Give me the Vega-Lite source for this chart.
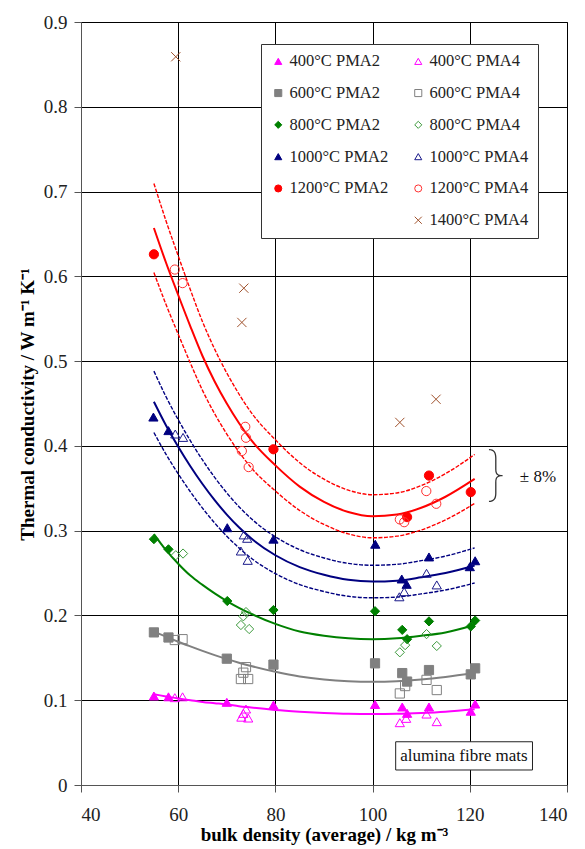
{
  "$schema": "https://vega.github.io/schema/vega-lite/v6.json",
  "width": 486,
  "height": 763,
  "autosize": {"type": "none"},
  "padding": {"left": 81, "top": 22, "right": 18, "bottom": 64},
  "background": "white",
  "datasets": {
    "pts": [
      {"x":55,"y":0.105,"s":"400°C PMA2"},{"x":58,"y":0.104,"s":"400°C PMA2"},{"x":70,"y":0.0975,"s":"400°C PMA2"},{"x":79.6,"y":0.0943,"s":"400°C PMA2"},{"x":100.5,"y":0.095,"s":"400°C PMA2"},{"x":106.1,"y":0.092,"s":"400°C PMA2"},{"x":107.1,"y":0.0845,"s":"400°C PMA2"},{"x":111.6,"y":0.092,"s":"400°C PMA2"},{"x":120.2,"y":0.087,"s":"400°C PMA2"},{"x":121.1,"y":0.0955,"s":"400°C PMA2"},
      {"x":59.3,"y":0.103,"s":"400°C PMA4"},{"x":60.9,"y":0.104,"s":"400°C PMA4"},{"x":73.95,"y":0.0896,"s":"400°C PMA4"},{"x":73.4,"y":0.0845,"s":"400°C PMA4"},{"x":73,"y":0.08,"s":"400°C PMA4"},{"x":74.4,"y":0.079,"s":"400°C PMA4"},{"x":105.6,"y":0.0735,"s":"400°C PMA4"},{"x":106.9,"y":0.0786,"s":"400°C PMA4"},{"x":111.1,"y":0.0837,"s":"400°C PMA4"},{"x":113.2,"y":0.0747,"s":"400°C PMA4"},
      {"x":55,"y":0.18,"s":"600°C PMA2"},{"x":58,"y":0.174,"s":"600°C PMA2"},{"x":70,"y":0.149,"s":"600°C PMA2"},{"x":79.6,"y":0.142,"s":"600°C PMA2"},{"x":100.5,"y":0.1435,"s":"600°C PMA2"},{"x":106.1,"y":0.132,"s":"600°C PMA2"},{"x":107.1,"y":0.122,"s":"600°C PMA2"},{"x":111.6,"y":0.1356,"s":"600°C PMA2"},{"x":120.2,"y":0.1305,"s":"600°C PMA2"},{"x":121.1,"y":0.1376,"s":"600°C PMA2"},
      {"x":59.3,"y":0.171,"s":"600°C PMA4"},{"x":60.9,"y":0.172,"s":"600°C PMA4"},{"x":73.95,"y":0.139,"s":"600°C PMA4"},{"x":73.4,"y":0.1325,"s":"600°C PMA4"},{"x":72.9,"y":0.125,"s":"600°C PMA4"},{"x":74.4,"y":0.125,"s":"600°C PMA4"},{"x":105.6,"y":0.108,"s":"600°C PMA4"},{"x":106.7,"y":0.1167,"s":"600°C PMA4"},{"x":111.1,"y":0.124,"s":"600°C PMA4"},{"x":113.2,"y":0.112,"s":"600°C PMA4"},
      {"x":55,"y":0.29,"s":"800°C PMA2"},{"x":58,"y":0.278,"s":"800°C PMA2"},{"x":70.1,"y":0.217,"s":"800°C PMA2"},{"x":79.6,"y":0.2064,"s":"800°C PMA2"},{"x":100.5,"y":0.205,"s":"800°C PMA2"},{"x":106.1,"y":0.183,"s":"800°C PMA2"},{"x":107.1,"y":0.172,"s":"800°C PMA2"},{"x":111.6,"y":0.193,"s":"800°C PMA2"},{"x":120.2,"y":0.187,"s":"800°C PMA2"},{"x":121.1,"y":0.194,"s":"800°C PMA2"},
      {"x":59.5,"y":0.271,"s":"800°C PMA4"},{"x":61,"y":0.273,"s":"800°C PMA4"},{"x":73.95,"y":0.204,"s":"800°C PMA4"},{"x":73.4,"y":0.199,"s":"800°C PMA4"},{"x":72.9,"y":0.1887,"s":"800°C PMA4"},{"x":74.6,"y":0.184,"s":"800°C PMA4"},{"x":105.6,"y":0.1565,"s":"800°C PMA4"},{"x":106.7,"y":0.165,"s":"800°C PMA4"},{"x":111.1,"y":0.178,"s":"800°C PMA4"},{"x":113.2,"y":0.164,"s":"800°C PMA4"},
      {"x":54.9,"y":0.434,"s":"1000°C PMA2"},{"x":58,"y":0.418,"s":"1000°C PMA2"},{"x":70.1,"y":0.3035,"s":"1000°C PMA2"},{"x":79.6,"y":0.29,"s":"1000°C PMA2"},{"x":100.55,"y":0.284,"s":"1000°C PMA2"},{"x":106,"y":0.243,"s":"1000°C PMA2"},{"x":107,"y":0.2367,"s":"1000°C PMA2"},{"x":111.6,"y":0.269,"s":"1000°C PMA2"},{"x":120,"y":0.2575,"s":"1000°C PMA2"},{"x":121.1,"y":0.2645,"s":"1000°C PMA2"},
      {"x":59.4,"y":0.414,"s":"1000°C PMA4"},{"x":61,"y":0.41,"s":"1000°C PMA4"},{"x":73.5,"y":0.295,"s":"1000°C PMA4"},{"x":74.2,"y":0.291,"s":"1000°C PMA4"},{"x":72.9,"y":0.276,"s":"1000°C PMA4"},{"x":74.3,"y":0.265,"s":"1000°C PMA4"},{"x":105.5,"y":0.222,"s":"1000°C PMA4"},{"x":106.5,"y":0.228,"s":"1000°C PMA4"},{"x":111.1,"y":0.2497,"s":"1000°C PMA4"},{"x":113.2,"y":0.236,"s":"1000°C PMA4"},
      {"x":55,"y":0.626,"s":"1200°C PMA2"},{"x":79.6,"y":0.396,"s":"1200°C PMA2"},{"x":107.1,"y":0.316,"s":"1200°C PMA2"},{"x":111.6,"y":0.365,"s":"1200°C PMA2"},{"x":120.2,"y":0.3455,"s":"1200°C PMA2"},
      {"x":59.3,"y":0.608,"s":"1200°C PMA4"},{"x":60.9,"y":0.592,"s":"1200°C PMA4"},{"x":73.8,"y":0.4225,"s":"1200°C PMA4"},{"x":73.95,"y":0.4096,"s":"1200°C PMA4"},{"x":73.1,"y":0.394,"s":"1200°C PMA4"},{"x":74.5,"y":0.375,"s":"1200°C PMA4"},{"x":111.05,"y":0.3467,"s":"1200°C PMA4"},{"x":113.1,"y":0.3317,"s":"1200°C PMA4"},{"x":105.6,"y":0.3133,"s":"1200°C PMA4"},{"x":106.5,"y":0.31,"s":"1200°C PMA4"},
      {"x":59.5,"y":0.859,"s":"1400°C PMA4"},{"x":73.5,"y":0.586,"s":"1400°C PMA4"},{"x":73.1,"y":0.5456,"s":"1400°C PMA4"},{"x":113.05,"y":0.455,"s":"1400°C PMA4"},{"x":105.6,"y":0.4277,"s":"1400°C PMA4"}
    ],
    "fit": [
      {"x":55,"400":0.107,"600":0.181,"800":0.296,"1000":0.452,"1000u":0.4882,"1000l":0.4158,"1200":0.657,"1200u":0.7096,"1200l":0.6044},
      {"x":57.5,"400":0.1045,"600":0.175,"800":0.277,"1000":0.424,"1000u":0.4579,"1000l":0.3901,"1200":0.616,"1200u":0.6653,"1200l":0.5667},
      {"x":60,"400":0.102,"600":0.169,"800":0.261,"1000":0.399,"1000u":0.4309,"1000l":0.3671,"1200":0.578,"1200u":0.6242,"1200l":0.5318},
      {"x":62.5,"400":0.1,"600":0.1635,"800":0.247,"1000":0.376,"1000u":0.4061,"1000l":0.3459,"1200":0.541,"1200u":0.5843,"1200l":0.4977},
      {"x":65,"400":0.098,"600":0.1582,"800":0.236,"1000":0.355,"1000u":0.3834,"1000l":0.3266,"1200":0.506,"1200u":0.5465,"1200l":0.4655},
      {"x":67.5,"400":0.0965,"600":0.1532,"800":0.226,"1000":0.336,"1000u":0.3629,"1000l":0.3091,"1200":0.476,"1200u":0.5141,"1200l":0.4379},
      {"x":70,"400":0.095,"600":0.1485,"800":0.217,"1000":0.319,"1000u":0.3445,"1000l":0.2935,"1200":0.45,"1200u":0.486,"1200l":0.414},
      {"x":72.5,"400":0.093,"600":0.1443,"800":0.209,"1000":0.304,"1000u":0.3283,"1000l":0.2797,"1200":0.427,"1200u":0.4612,"1200l":0.3928},
      {"x":75,"400":0.0915,"600":0.1404,"800":0.202,"1000":0.291,"1000u":0.3143,"1000l":0.2677,"1200":0.407,"1200u":0.4396,"1200l":0.3744},
      {"x":80,"400":0.0885,"600":0.1335,"800":0.19,"1000":0.271,"1000u":0.2927,"1000l":0.2493,"1200":0.377,"1200u":0.4072,"1200l":0.3468},
      {"x":85,"400":0.0865,"600":0.128,"800":0.181,"1000":0.257,"1000u":0.2776,"1000l":0.2364,"1200":0.352,"1200u":0.3802,"1200l":0.3238},
      {"x":90,"400":0.085,"600":0.1245,"800":0.176,"1000":0.248,"1000u":0.2678,"1000l":0.2282,"1200":0.334,"1200u":0.3607,"1200l":0.3073},
      {"x":95,"400":0.084,"600":0.1225,"800":0.173,"1000":0.242,"1000u":0.2614,"1000l":0.2226,"1200":0.322,"1200u":0.3478,"1200l":0.2962},
      {"x":100,"400":0.0837,"600":0.1218,"800":0.172,"1000":0.24,"1000u":0.2592,"1000l":0.2208,"1200":0.317,"1200u":0.3424,"1200l":0.2916},
      {"x":105,"400":0.084,"600":0.1225,"800":0.173,"1000":0.241,"1000u":0.2603,"1000l":0.2217,"1200":0.319,"1200u":0.3445,"1200l":0.2935},
      {"x":110,"400":0.085,"600":0.1245,"800":0.176,"1000":0.245,"1000u":0.2646,"1000l":0.2254,"1200":0.327,"1200u":0.3532,"1200l":0.3008},
      {"x":115,"400":0.0865,"600":0.1275,"800":0.18,"1000":0.25,"1000u":0.27,"1000l":0.23,"1200":0.34,"1200u":0.3672,"1200l":0.3128},
      {"x":121,"400":0.0893,"600":0.132,"800":0.1887,"1000":0.259,"1000u":0.2797,"1000l":0.2383,"1200":0.361,"1200u":0.3899,"1200l":0.3321}
    ]
  },
  "config": {
    "font": "Liberation Serif",
    "view": {"stroke": "#555"},
    "axis": {
      "labelFont": "Liberation Serif", "titleFont": "Liberation Serif",
      "labelFontSize": 19, "titleFontSize": 19, "titleFontWeight": "bold",
      "labelColor": "#222", "titleColor": "#000",
      "gridColor": "#000", "gridWidth": 1, "gridOpacity": 1,
      "domainColor": "#555", "tickColor": "#555", "tickSize": 7, "domainWidth": 1, "tickWidth": 1
    },
    "axisX": {"labelPadding": 28, "labelBaseline": "alphabetic", "titleY": 55, "titleBaseline": "alphabetic"},
    "axisY": {"labelPadding": 7, "titleX": -54, "titleY": 382, "titleBaseline": "middle", "titleAlign": "center"}
  },
  "layer": [
    {
      "data": {"name": "fit"},
      "transform": [{"fold": ["400", "600", "800", "1000", "1200"], "as": ["k", "v"]}],
      "mark": {"type": "line", "strokeWidth": 2, "interpolate": "monotone"},
      "encoding": {
        "x": {"field": "x", "type": "quantitative", "scale": {"domain": [40, 140], "nice": false}, "axis": {"values": [40, 60, 80, 100, 120, 140]}, "title": "bulk density (average) / kg m⁻³"},
        "y": {"field": "v", "type": "quantitative", "scale": {"domain": [0, 0.9], "nice": false}, "axis": {"values": [0, 0.1, 0.2, 0.3, 0.4, 0.5, 0.6, 0.7, 0.8, 0.9], "format": ".1~f"}, "title": "Thermal conductivity / W m⁻¹ K⁻¹"},
        "color": {"field": "k", "type": "nominal", "legend": null, "scale": {"domain": ["400", "600", "800", "1000", "1200", "1000u", "1000l", "1200u", "1200l"], "range": ["#FF00FF", "#808080", "#008000", "#000080", "#FF0000", "#000080", "#000080", "#FF0000", "#FF0000"]}}
      }
    },
    {
      "data": {"name": "fit"},
      "transform": [{"fold": ["1000u", "1000l", "1200u", "1200l"], "as": ["k", "v"]}],
      "mark": {"type": "line", "strokeWidth": 1.4, "strokeDash": [4, 1.5], "interpolate": "monotone"},
      "encoding": {
        "x": {"field": "x", "type": "quantitative", "scale": {"domain": [40, 140], "nice": false}, "title": "bulk density (average) / kg m⁻³"},
        "y": {"field": "v", "type": "quantitative", "scale": {"domain": [0, 0.9], "nice": false}, "title": "Thermal conductivity / W m⁻¹ K⁻¹"},
        "color": {"field": "k", "type": "nominal", "legend": null, "scale": {"domain": ["400", "600", "800", "1000", "1200", "1000u", "1000l", "1200u", "1200l"], "range": ["#FF00FF", "#808080", "#008000", "#000080", "#FF0000", "#000080", "#000080", "#FF0000", "#FF0000"]}}
      }
    },
    {
      "data": {"name": "pts"},
      "mark": {"type": "point", "opacity": 1, "strokeWidth": 1},
      "encoding": {
        "x": {"field": "x", "type": "quantitative", "scale": {"domain": [40, 140], "nice": false}, "title": "bulk density (average) / kg m⁻³"},
        "y": {"field": "y", "type": "quantitative", "scale": {"domain": [0, 0.9], "nice": false}, "title": "Thermal conductivity / W m⁻¹ K⁻¹"},
        "shape": {"field": "s", "type": "nominal",
          "scale": {"domain": ["400°C PMA2", "400°C PMA4", "600°C PMA2", "600°C PMA4", "800°C PMA2", "800°C PMA4", "1000°C PMA2", "1000°C PMA4", "1200°C PMA2", "1200°C PMA4", " ", "1400°C PMA4"],
                    "range": ["triangle-up", "triangle-up", "square", "square", "diamond", "diamond", "triangle-up", "triangle-up", "circle", "circle", "circle", "M-1,-1L1,1M1,-1L-1,1"]},
          "legend": {"orient": "none", "legendX": 180, "legendY": 22, "title": null, "direction": "horizontal", "columns": 2, "columnPadding": 21, "rowPadding": 14.8, "padding": 9, "fillColor": "white", "strokeColor": "#333", "labelFont": "Liberation Serif", "labelFontSize": 16.5, "labelColor": "#222", "symbolSize": 50, "symbolStrokeWidth": 1, "labelOffset": 3}},
        "fill": {"field": "s", "type": "nominal",
          "scale": {"domain": ["400°C PMA2", "400°C PMA4", "600°C PMA2", "600°C PMA4", "800°C PMA2", "800°C PMA4", "1000°C PMA2", "1000°C PMA4", "1200°C PMA2", "1200°C PMA4", " ", "1400°C PMA4"],
                    "range": ["#FF00FF", "transparent", "#808080", "transparent", "#008000", "transparent", "#000080", "transparent", "#FF0000", "transparent", "transparent", "transparent"]},
          "legend": {"orient": "none", "legendX": 180, "legendY": 22, "title": null, "direction": "horizontal", "columns": 2, "columnPadding": 21, "rowPadding": 14.8, "padding": 9, "fillColor": "white", "strokeColor": "#333", "labelFont": "Liberation Serif", "labelFontSize": 16.5, "labelColor": "#222", "symbolSize": 50, "symbolStrokeWidth": 1, "labelOffset": 3}},
        "stroke": {"field": "s", "type": "nominal",
          "scale": {"domain": ["400°C PMA2", "400°C PMA4", "600°C PMA2", "600°C PMA4", "800°C PMA2", "800°C PMA4", "1000°C PMA2", "1000°C PMA4", "1200°C PMA2", "1200°C PMA4", " ", "1400°C PMA4"],
                    "range": ["#FF00FF", "#FF00FF", "#808080", "#808080", "#008000", "#3C9A3C", "#000080", "#1A1A8A", "#FF0000", "#FF3030", "transparent", "#A0522D"]},
          "legend": {"orient": "none", "legendX": 180, "legendY": 22, "title": null, "direction": "horizontal", "columns": 2, "columnPadding": 21, "rowPadding": 14.8, "padding": 9, "fillColor": "white", "strokeColor": "#333", "labelFont": "Liberation Serif", "labelFontSize": 16.5, "labelColor": "#222", "symbolSize": 50, "symbolStrokeWidth": 1, "labelOffset": 3}},
        "size": {"field": "s", "type": "nominal", "legend": null,
          "scale": {"domain": ["400°C PMA2", "400°C PMA4", "600°C PMA2", "600°C PMA4", "800°C PMA2", "800°C PMA4", "1000°C PMA2", "1000°C PMA4", "1200°C PMA2", "1200°C PMA4", "1400°C PMA4"],
                    "range": [85, 85, 55, 55, 65, 65, 85, 85, 80, 80, 70]}}
      }
    },
    {
      "data": {"values": [{"label": "alumina fibre mats"}]},
      "mark": {"type": "rect", "fill": "white", "stroke": "#222", "strokeWidth": 1},
      "encoding": {
        "x": {"datum": 104.75, "type": "quantitative", "scale": {"domain": [40, 140], "nice": false}, "title": "bulk density (average) / kg m⁻³"},
        "x2": {"datum": 132.9},
        "y": {"datum": 0.051, "type": "quantitative", "scale": {"domain": [0, 0.9], "nice": false}, "title": "Thermal conductivity / W m⁻¹ K⁻¹"},
        "y2": {"datum": 0.0177}
      }
    },
    {
      "data": {"values": [{"label": "alumina fibre mats"}]},
      "mark": {"type": "text", "font": "Liberation Serif", "fontSize": 17, "align": "center", "baseline": "middle", "color": "#111"},
      "encoding": {
        "x": {"datum": 118.8, "type": "quantitative", "scale": {"domain": [40, 140], "nice": false}, "title": "bulk density (average) / kg m⁻³"},
        "y": {"datum": 0.0342, "type": "quantitative", "scale": {"domain": [0, 0.9], "nice": false}, "title": "Thermal conductivity / W m⁻¹ K⁻¹"},
        "text": {"field": "label"}
      }
    },
    {
      "data": {"values": [{"label": "}"}]},
      "mark": {"type": "text", "font": "Inter", "fontWeight": 100, "fontSize": 58, "align": "center", "baseline": "middle", "color": "#333"},
      "encoding": {
        "x": {"datum": 125.4, "type": "quantitative", "scale": {"domain": [40, 140], "nice": false}, "title": "bulk density (average) / kg m⁻³"},
        "y": {"datum": 0.3635, "type": "quantitative", "scale": {"domain": [0, 0.9], "nice": false}, "title": "Thermal conductivity / W m⁻¹ K⁻¹"},
        "text": {"field": "label"}
      }
    },
    {
      "data": {"values": [{"label": "± 8%"}]},
      "mark": {"type": "text", "font": "Liberation Serif", "fontSize": 17, "align": "left", "baseline": "middle", "color": "#111"},
      "encoding": {
        "x": {"datum": 130.3, "type": "quantitative", "scale": {"domain": [40, 140], "nice": false}, "title": "bulk density (average) / kg m⁻³"},
        "y": {"datum": 0.363, "type": "quantitative", "scale": {"domain": [0, 0.9], "nice": false}, "title": "Thermal conductivity / W m⁻¹ K⁻¹"},
        "text": {"field": "label"}
      }
    }
  ]
}
